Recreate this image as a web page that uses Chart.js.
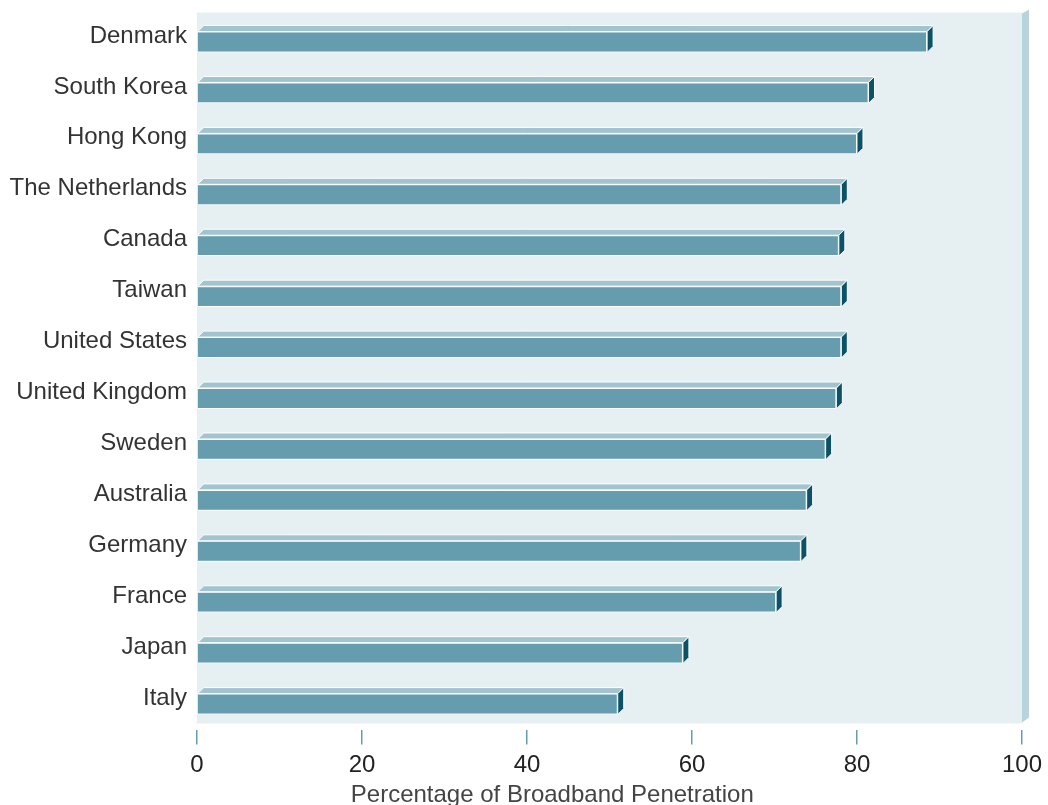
<!DOCTYPE html>
<html>
<head>
<meta charset="utf-8">
<script src="https://cdn.jsdelivr.net/npm/chart.js@4/dist/chart.umd.min.js"></script>
<style>
  html, body { margin: 0; padding: 0; background: #fff; }
  #wrap { width: 1048px; height: 805px; }
</style>
</head>
<body>
<div id="wrap"><canvas id="broadband"></canvas></div>
<script>
var countries = ["Denmark", "South Korea", "Hong Kong", "The Netherlands", "Canada", "Taiwan",
  "United States", "United Kingdom", "Sweden", "Australia", "Germany", "France", "Japan", "Italy"];
var penetration = [88.5, 81.4, 80.0, 78.1, 77.8, 78.1, 78.1, 77.5, 76.2, 73.9, 73.2, 70.2, 58.9, 51.0];
var xTicks = [0, 20, 40, 60, 80, 100];
var xTitle = "Percentage of Broadband Penetration";

var depth = 6;
var frontColor = "#669dae";
var topColor = "#a2c4cf";
var sideColor = "#0b5266";
var fontFamily = "'Liberation Sans', Arial, sans-serif";

// back wall + right wall behind the bars
var wallPlugin = {
  id: "wall",
  beforeDatasetsDraw: function (chart) {
    var a = chart.chartArea, c = chart.ctx;
    c.save();
    c.fillStyle = "#e6eff2";
    c.fillRect(a.left, a.top - 4, a.right - a.left, a.bottom - a.top - 2);
    c.fillStyle = "#b9d3dc";
    c.beginPath();
    c.moveTo(a.right, a.top - 3);
    c.lineTo(a.right + 7, a.top - 7);
    c.lineTo(a.right + 7, a.bottom - 12);
    c.lineTo(a.right, a.bottom - 7);
    c.closePath();
    c.fill();
    c.restore();
  }
};

// top and side faces so the bars look like boxes
var boxPlugin = {
  id: "box3d",
  afterDatasetsDraw: function (chart) {
    var c = chart.ctx;
    chart.getDatasetMeta(0).data.forEach(function (bar) {
      var p = bar.getProps(["x", "y", "base", "height"], true);
      var top = p.y - p.height / 2, bottom = p.y + p.height / 2;
      c.save();
      c.lineWidth = 1;
      c.strokeStyle = "#ffffff";
      c.fillStyle = topColor;
      c.beginPath();
      c.moveTo(p.base, top);
      c.lineTo(p.base + depth, top - depth);
      c.lineTo(p.x + depth, top - depth);
      c.lineTo(p.x, top);
      c.closePath();
      c.fill();
      c.stroke();
      c.fillStyle = sideColor;
      c.beginPath();
      c.moveTo(p.x, top);
      c.lineTo(p.x + depth, top - depth);
      c.lineTo(p.x + depth, bottom - depth);
      c.lineTo(p.x, bottom);
      c.closePath();
      c.fill();
      c.stroke();
      c.restore();
    });
  }
};

// axis title sits a bit left of the plot centre in the original
var titlePlugin = {
  id: "xTitle",
  afterDraw: function (chart) {
    var c = chart.ctx;
    c.save();
    c.fillStyle = "#444444";
    c.font = "24px " + fontFamily;
    c.textAlign = "center";
    c.textBaseline = "middle";
    c.fillText(xTitle, chart.width * 0.527, chart.height - 10);
    c.restore();
  }
};

var ctx = document.getElementById("broadband");
var broadband = new Chart(ctx, {
  type: "bar",
  data: {
    labels: countries,
    datasets: [{
      label: "Broadband Penetration",
      data: penetration,
      backgroundColor: frontColor,
      borderColor: "#ffffff",
      borderWidth: 1,
      borderSkipped: "start",
      barPercentage: 0.41,
      categoryPercentage: 1
    }]
  },
  plugins: [wallPlugin, boxPlugin, titlePlugin],
  options: {
    indexAxis: "y",
    responsive: true,
    maintainAspectRatio: false,
    animation: false,
    layout: { padding: { left: 10, right: 26, top: 16.5, bottom: 0 } },
    plugins: {
      legend: { display: false },
      tooltip: { enabled: false }
    },
    scales: {
      x: {
        min: 0,
        max: 100,
        afterBuildTicks: function (scale) {
          scale.ticks = xTicks.map(function (v) { return { value: v }; });
        },
        afterFit: function (scale) { scale.height = 75.5; },
        border: { display: false },
        grid: {
          drawOnChartArea: false,
          drawTicks: true,
          tickLength: 15,
          tickColor: frontColor,
          lineWidth: 1.5
        },
        ticks: {
          padding: 6,
          maxRotation: 0,
          color: "#222222",
          font: { family: fontFamily, size: 24 }
        }
      },
      y: {
        afterFit: function (scale) {
          scale.width = 187;
          scale.paddingTop = 0;
          scale.paddingBottom = 0;
        },
        border: { display: false },
        grid: { display: false, drawTicks: false },
        ticks: {
          padding: 10,
          labelOffset: -6,
          color: "#333333",
          font: { family: fontFamily, size: 24 }
        }
      }
    }
  }
});
</script>
</body>
</html>
